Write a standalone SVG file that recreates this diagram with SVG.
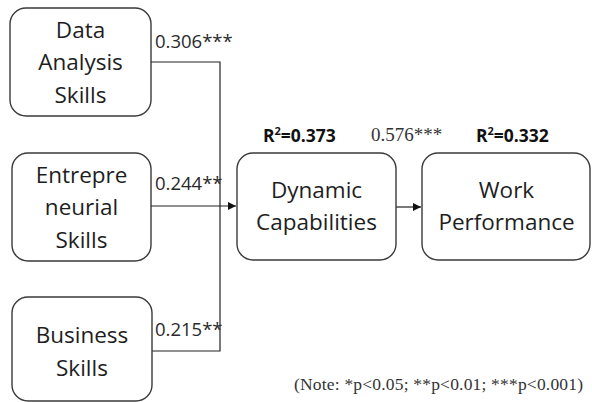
<svg xmlns="http://www.w3.org/2000/svg" width="592" height="402" viewBox="0 0 592 402">
<style>
.box{fill:#fff;stroke:#3a3a3a;stroke-width:1.4}
.nt{font-family:"Open Sans","Liberation Sans",sans-serif;font-size:22.5px;fill:#1e1e1e;text-anchor:middle}
.lb{font-family:"Open Sans","Liberation Sans",sans-serif;font-size:18.5px;fill:#2a2a2a}
.r2{font-family:"Open Sans","Liberation Sans",sans-serif;font-size:17.5px;font-weight:bold;fill:#111}
.tm{font-family:"Liberation Serif","Times New Roman",serif;fill:#333}
.ln{fill:none;stroke:#222;stroke-width:1.2}
</style>
<defs>
<marker id="ah" viewBox="0 0 10 10" refX="10" refY="5" markerWidth="8" markerHeight="8" markerUnits="userSpaceOnUse" orient="auto">
<path d="M0,0 L10,5 L0,10 z" fill="#111"/>
</marker>
</defs>
<rect width="592" height="402" fill="#fff"/>
<g id="connectors">
<path class="ln" d="M151,62 H220 V351 H152"/>
<path class="ln" d="M151,206 H236" marker-end="url(#ah)"/>
<path class="ln" d="M396,207 H421" marker-end="url(#ah)"/>
</g>
<g id="data-analysis">
<rect class="box" x="10" y="8" width="141" height="108" rx="16"/>
<text class="nt" x="80.5" y="38">Data</text>
<text class="nt" x="80.5" y="70">Analysis</text>
<text class="nt" x="80.5" y="103">Skills</text>
</g>
<g id="entrepreneurial">
<rect class="box" x="12" y="153" width="139" height="108" rx="16"/>
<text class="nt" x="81.5" y="183">Entrepre</text>
<text class="nt" x="81.5" y="215">neurial</text>
<text class="nt" x="81.5" y="248">Skills</text>
</g>
<g id="business">
<rect class="box" x="12" y="297" width="140" height="104" rx="16"/>
<text class="nt" x="82" y="343">Business</text>
<text class="nt" x="82" y="376">Skills</text>
</g>
<g id="dynamic">
<rect class="box" x="237" y="153" width="159" height="107" rx="16"/>
<text class="nt" x="316.5" y="198">Dynamic</text>
<text class="nt" x="316.5" y="230">Capabilities</text>
</g>
<g id="work">
<rect class="box" x="422" y="153" width="168" height="107" rx="16"/>
<text class="nt" x="506.5" y="198">Work</text>
<text class="nt" x="506.5" y="230">Performance</text>
</g>
<g id="labels">
<text class="lb" x="155" y="48">0.306***</text>
<text class="lb" x="155" y="190">0.244**</text>
<text class="lb" x="155" y="336">0.215**</text>
<text class="r2" x="263" y="142">R<tspan font-size="11" dy="-7">2</tspan><tspan dy="7">=0.373</tspan></text>
<text class="tm" x="371" y="141" font-size="19">0.576***</text>
<text class="r2" x="476" y="142">R<tspan font-size="11" dy="-7">2</tspan><tspan dy="7">=0.332</tspan></text>
<text class="tm" x="294" y="390" font-size="17.5" textLength="289" lengthAdjust="spacing">(Note: *p&lt;0.05; **p&lt;0.01; ***p&lt;0.001)</text>
</g>
</svg>
